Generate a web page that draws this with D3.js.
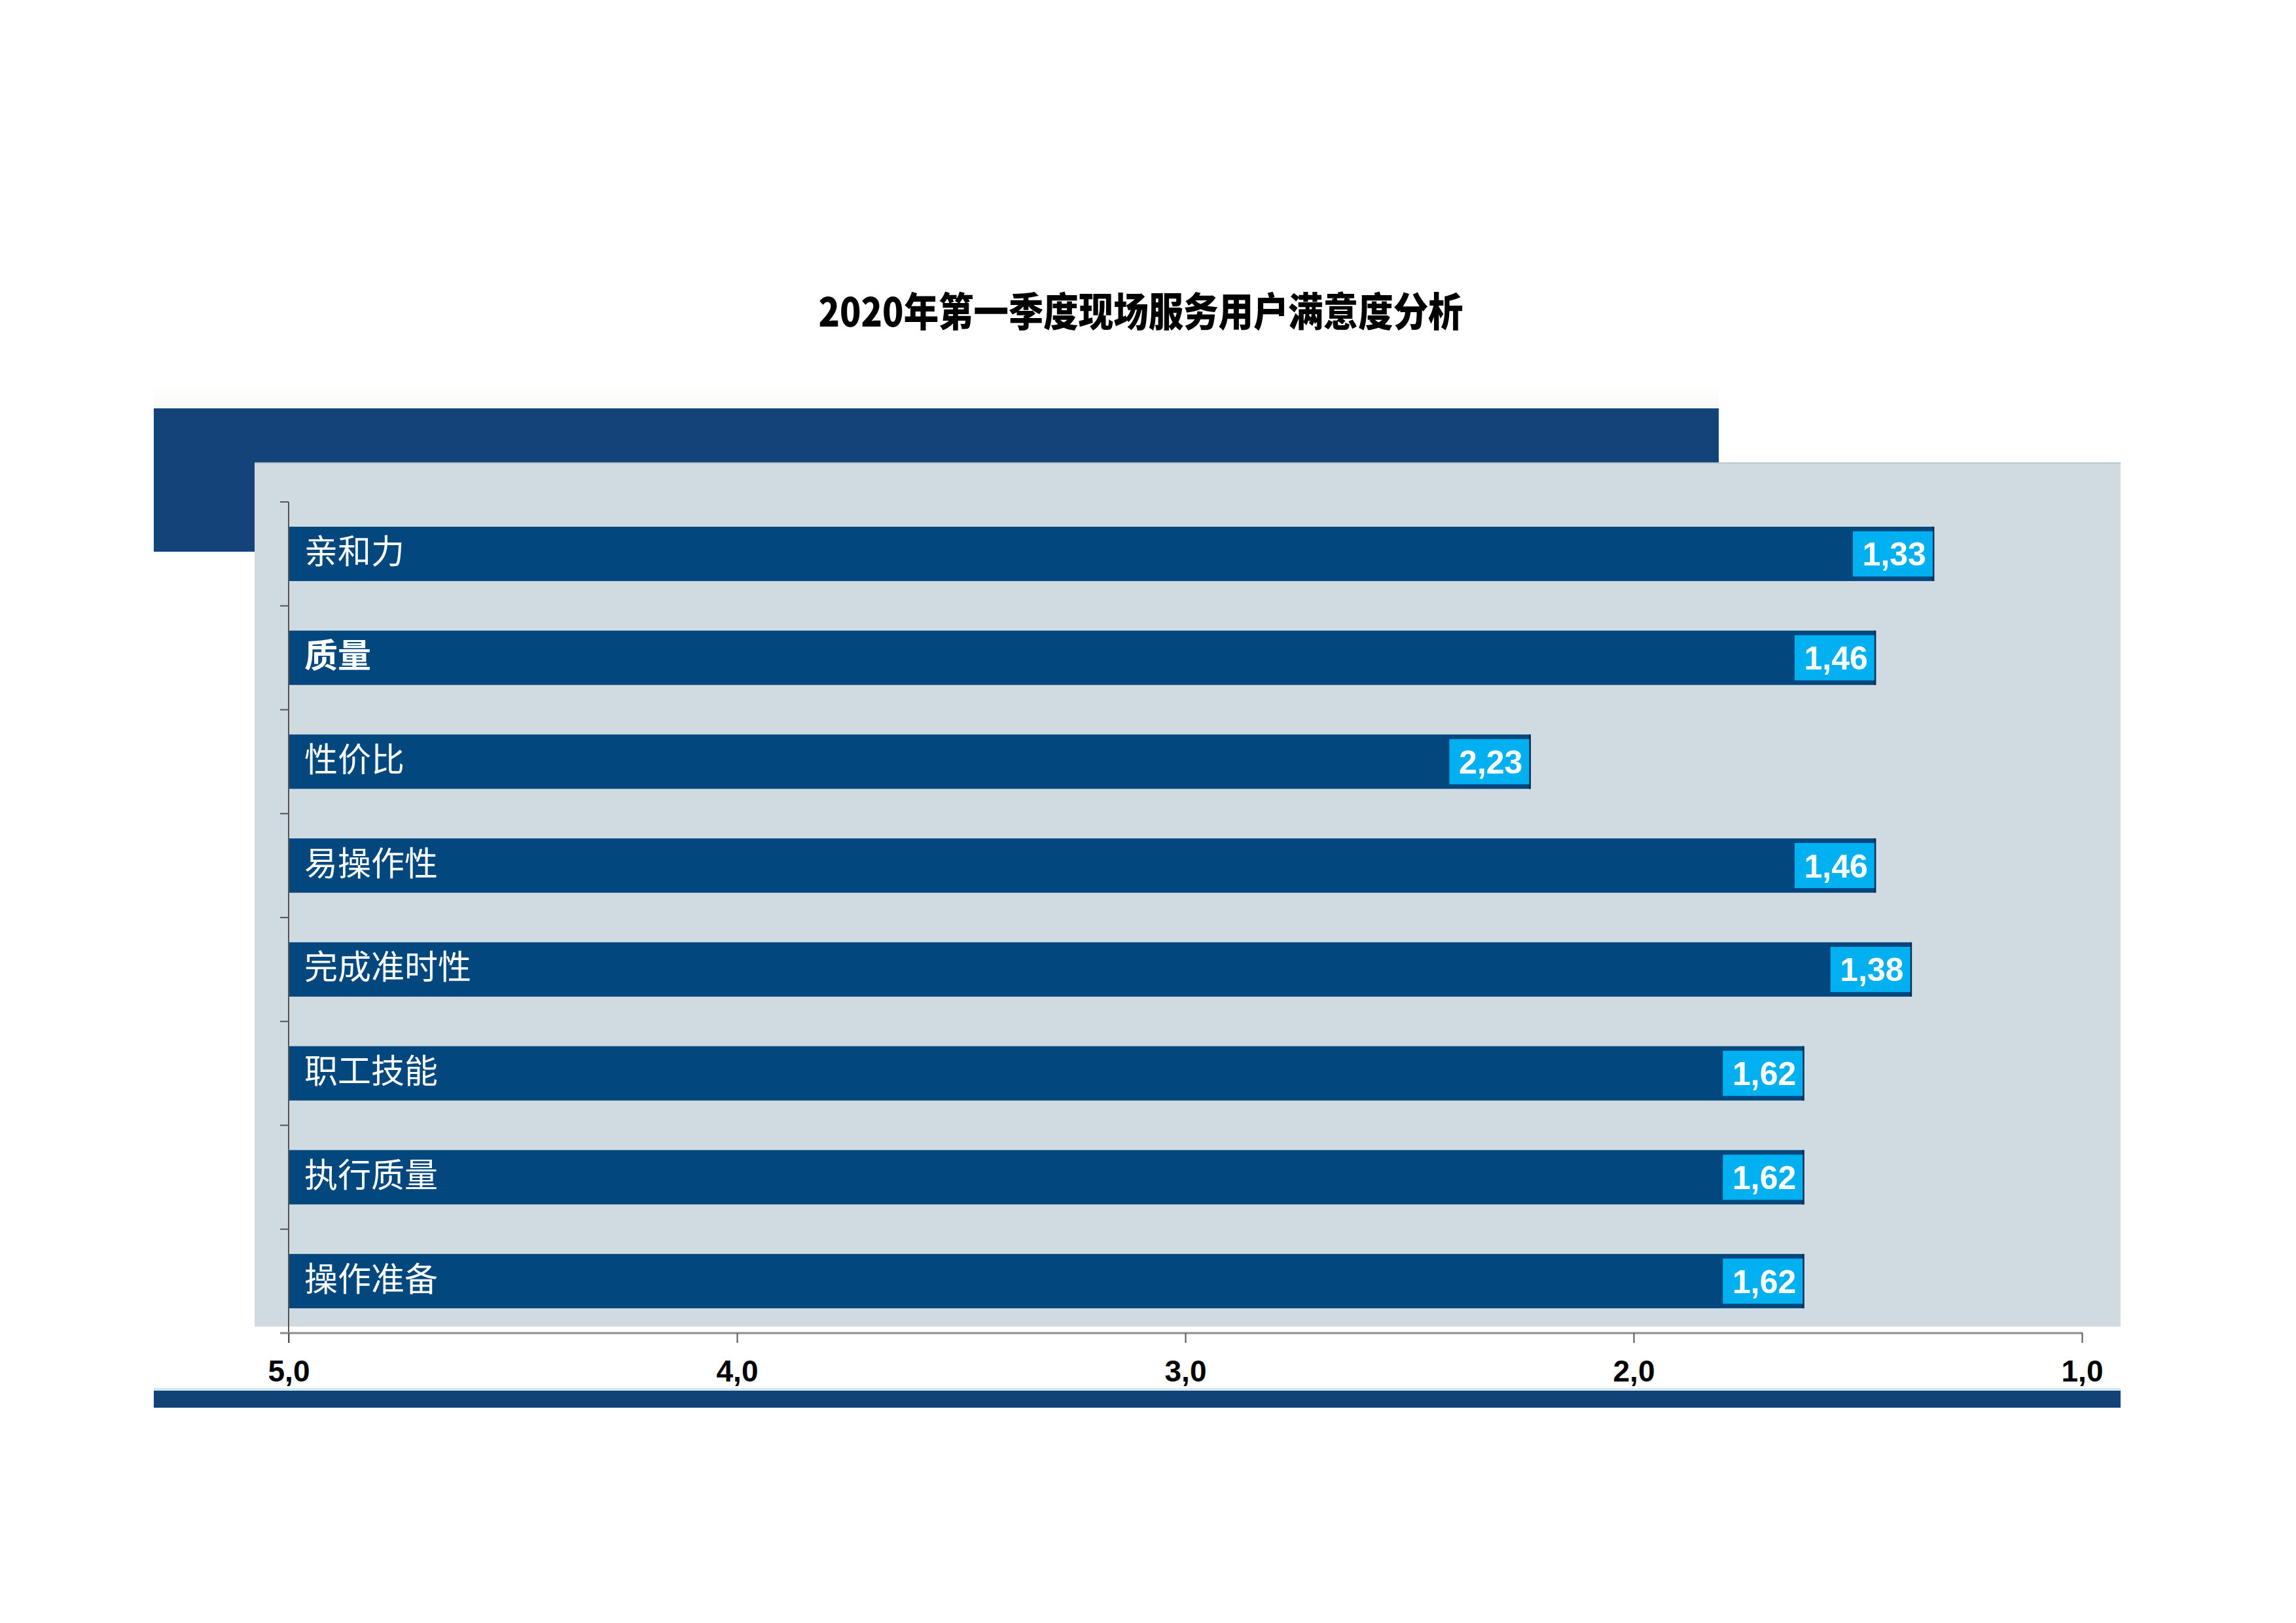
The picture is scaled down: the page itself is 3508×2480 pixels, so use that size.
<!DOCTYPE html>
<html>
<head>
<meta charset="utf-8">
<script src="https://cdn.jsdelivr.net/npm/d3@7"></script>
<style>
  html, body { margin: 0; padding: 0; background: #ffffff; }
  svg { display: block; }
</style>
</head>
<body>
<script>
// ---- data ----
const titleText = "2020年第一季度现场服务用户满意度分析";
const categories = ["亲和力", "质量", "性价比", "易操作性", "完成准时性", "职工技能", "执行质量", "操作准备"];
const values = [1.33, 1.46, 2.23, 1.46, 1.38, 1.62, 1.62, 1.62];
const valueLabels = ["1,33", "1,46", "2,23", "1,46", "1,38", "1,62", "1,62", "1,62"];
const boldCategories = ["质量"];
const xTickValues = [5, 4, 3, 2, 1];
const xTickLabels = ["5,0", "4,0", "3,0", "2,0", "1,0"];

// ---- layout ----
const W = 3508, H = 2480;
const svg = d3.select("body").append("svg").attr("width", W).attr("height", H);

const x = d3.scaleLinear().domain([5, 1]).range([441, 3181]);
const y = d3.scaleBand().domain(categories).range([767, 2037]).paddingInner(0.477).paddingOuter(0.2385);

// faint shading above top band
const defs = svg.append("defs");
const g1 = defs.append("linearGradient").attr("id", "fade").attr("x1", 0).attr("y1", 0).attr("x2", 0).attr("y2", 1);
g1.append("stop").attr("offset", 0).attr("stop-color", "#ffffff");
g1.append("stop").attr("offset", 1).attr("stop-color", "#f7f8f6");
svg.append("rect").attr("x", 235).attr("y", 590).attr("width", 2391).attr("height", 34).attr("fill", "url(#fade)");

// top dark band
svg.append("rect").attr("x", 235).attr("y", 624).attr("width", 2391).attr("height", 219).attr("fill", "#144379");

// grey panel
svg.append("rect").attr("x", 389).attr("y", 707).attr("width", 2851).attr("height", 1320).attr("fill", "#cfdae1");
svg.append("line").attr("x1", 389).attr("x2", 3240).attr("y1", 707.5).attr("y2", 707.5).attr("stroke", "#b9c7d1").attr("stroke-width", 2);

// bottom dark band
svg.append("rect").attr("x", 235).attr("y", 2121).attr("width", 3005).attr("height", 4).attr("fill", "#d4e6f0");
svg.append("rect").attr("x", 235).attr("y", 2125).attr("width", 3005).attr("height", 26).attr("fill", "#134279");

// title
svg.append("text")
  .attr("x", 1743).attr("y", 499)
  .attr("text-anchor", "middle")
  .attr("font-family", "'Noto Sans CJK SC', 'Noto Sans', sans-serif")
  .attr("font-weight", 900)
  .attr("font-size", 61)
  .attr("fill", "#000000")
  .attr("textLength", 985)
  .attr("lengthAdjust", "spacingAndGlyphs")
  .text(titleText);

// bars
const rows = categories.map((c, i) => ({ cat: c, v: values[i], lab: valueLabels[i] }));
const bars = svg.append("g");
bars.selectAll("rect.bar").data(rows).join("rect")
  .attr("class", "bar")
  .attr("x", x(5))
  .attr("y", d => y(d.cat))
  .attr("width", d => x(d.v) - x(5))
  .attr("height", y.bandwidth())
  .attr("fill", "#03477f");
bars.selectAll("line.edge").data(rows).join("line")
  .attr("class", "edge")
  .attr("x1", d => x(d.v) - 1).attr("x2", d => x(d.v) - 1)
  .attr("y1", d => y(d.cat)).attr("y2", d => y(d.cat) + y.bandwidth())
  .attr("stroke", "#0b2f55").attr("stroke-width", 3);

// value label boxes
const boxW = 122, inset = 7;
bars.selectAll("rect.vbox").data(rows).join("rect")
  .attr("class", "vbox")
  .attr("x", d => x(d.v) - 2 - boxW)
  .attr("y", d => y(d.cat) + inset)
  .attr("width", boxW)
  .attr("height", y.bandwidth() - 2 * inset)
  .attr("fill", "#00b0f0");
bars.selectAll("text.vlab").data(rows).join("text")
  .attr("class", "vlab")
  .attr("x", d => x(d.v) - 12)
  .attr("y", d => y(d.cat) + y.bandwidth() / 2 + 18)
  .attr("text-anchor", "end")
  .attr("font-family", "'Liberation Sans', Arial, sans-serif")
  .attr("font-weight", 700)
  .attr("font-size", 50)
  .attr("fill", "#ffffff")
  .text(d => d.lab);

// category labels
bars.selectAll("text.clab").data(rows).join("text")
  .attr("class", "clab")
  .attr("x", 465)
  .attr("y", d => y(d.cat) + y.bandwidth() / 2 + 15)
  .attr("font-family", "'Noto Sans CJK SC', sans-serif")
  .attr("font-weight", d => boldCategories.includes(d.cat) ? 700 : 400)
  .attr("font-size", 51)
  .attr("fill", "#ffffff")
  .text(d => d.cat);

// y axis line and ticks
const step = y.step();
const gap = step - y.bandwidth();
svg.append("line").attr("x1", 441).attr("x2", 441).attr("y1", 767).attr("y2", 2052)
  .attr("stroke", "#555555").attr("stroke-width", 2);
svg.append("g").selectAll("line").data(categories).join("line")
  .attr("x1", 428).attr("x2", 441)
  .attr("y1", d => y(d) - gap / 2).attr("y2", d => y(d) - gap / 2)
  .attr("stroke", "#555555").attr("stroke-width", 2);

// x axis
svg.append("line").attr("x1", 428).attr("x2", 3182).attr("y1", 2037).attr("y2", 2037)
  .attr("stroke", "#8c8c8c").attr("stroke-width", 3);
const xAxis = d3.axisBottom(x)
  .tickValues(xTickValues)
  .tickFormat((d, i) => xTickLabels[i])
  .tickSize(15)
  .tickSizeOuter(0)
  .tickPadding(26);
const gx = svg.append("g").attr("transform", "translate(0,2037)").call(xAxis);
gx.select(".domain").remove();
gx.selectAll(".tick line").attr("stroke", "#555555").attr("stroke-width", 2);
gx.selectAll(".tick text")
  .attr("font-family", "'Liberation Sans', Arial, sans-serif")
  .attr("font-weight", 700)
  .attr("font-size", 46)
  .attr("fill", "#000000");
</script>
</body>
</html>
